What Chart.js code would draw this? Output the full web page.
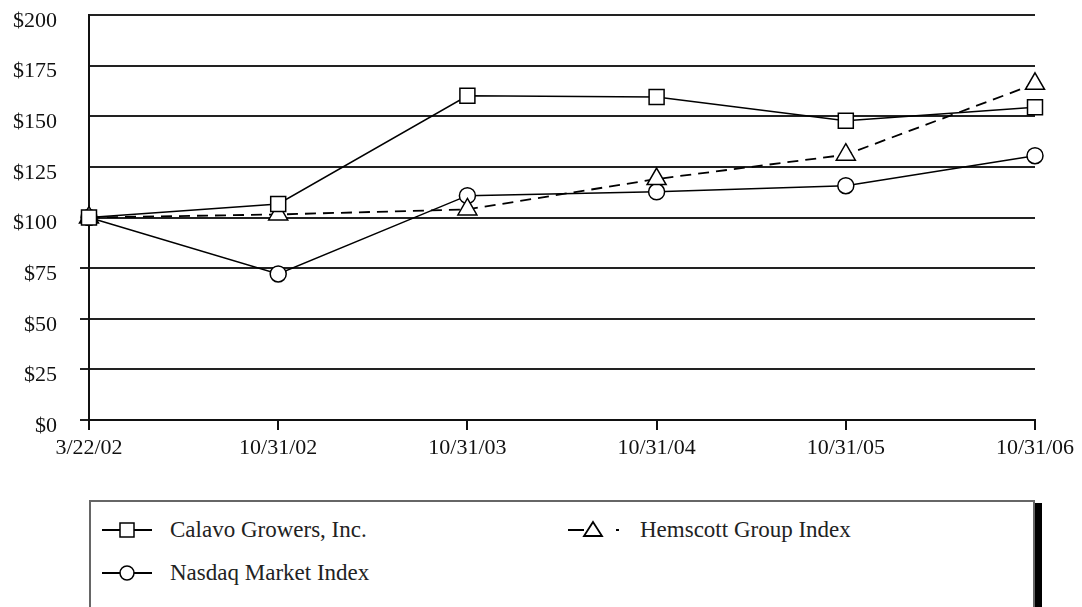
<!DOCTYPE html>
<html>
<head>
<meta charset="utf-8">
<script src="https://cdn.jsdelivr.net/npm/chart.js@4/dist/chart.umd.min.js"></script>
<style>
  html, body { margin: 0; padding: 0; background: #fff; overflow: hidden; }
  #wrap { position: relative; width: 1082px; height: 607px; }
  #chartBox { position: absolute; left: 0; top: 0; width: 1082px; height: 480px; }
  #legend { position: absolute; left: 89px; top: 500px; width: 946px; height: 140px;
            border: 2px solid #666; box-sizing: border-box; box-shadow: 7px 3px 0 0 #000;
            font-family: "Liberation Serif", "Times New Roman", serif; font-size: 23px; color: #222; }
  .item { position: absolute; display: flex; align-items: center; height: 30px; }
  .item svg { display: block; }
  .item span { white-space: nowrap; }
</style>
</head>
<body>
<div id="wrap">
  <div id="chartBox"><canvas id="c"></canvas></div>
  <div id="legend"></div>
</div>
<script>
const categories = ["3/22/02", "10/31/02", "10/31/03", "10/31/04", "10/31/05", "10/31/06"];
const calavo   = [100, 106.7, 160.1, 159.5, 147.8, 154.4];
const hemscott = [100, 101.5, 104, 119, 131, 166];
const nasdaq   = [100, 72.1, 110.8, 112.7, 115.7, 130.5];
const yTicks   = [0, 25, 50, 75, 100, 125, 150, 175, 200];
const seriesNames = ["Calavo Growers, Inc.", "Hemscott Group Index", "Nasdaq Market Index"];

const FONT = "'Liberation Serif', 'Times New Roman', serif";

new Chart(document.getElementById('c'), {
  type: 'line',
  data: {
    labels: categories,
    datasets: [
      { label: seriesNames[0], data: calavo, borderColor: '#000', borderWidth: 1.5,
        pointStyle: 'rect', pointRadius: 10.6, pointBackgroundColor: '#fff', pointBorderColor: '#000', pointBorderWidth: 1.5, tension: 0 },
      { label: seriesNames[1], data: hemscott, borderColor: '#000', borderWidth: 1.8, borderDash: [11, 7],
        pointStyle: 'triangle', pointRadius: 11, pointBackgroundColor: '#fff', pointBorderColor: '#000', pointBorderWidth: 1.5, tension: 0 },
      { label: seriesNames[2], data: nasdaq, borderColor: '#000', borderWidth: 1.5,
        pointStyle: 'circle', pointRadius: 8, pointBackgroundColor: '#fff', pointBorderColor: '#000', pointBorderWidth: 1.5, tension: 0 }
    ]
  },
  options: {
    responsive: true,
    maintainAspectRatio: false,
    animation: false,
    layout: { padding: { left: 0, right: 47, top: 15, bottom: 0 } },
    plugins: { legend: { display: false }, tooltip: { enabled: false } },
    scales: {
      x: {
        offset: false,
        grid: { display: true, drawOnChartArea: false, drawTicks: true, tickLength: 10, color: '#111', lineWidth: 2 },
        border: { display: true, color: '#111', width: 2 },
        ticks: { font: { family: FONT, size: 22 }, color: '#111', padding: 5, maxRotation: 0, autoSkip: false },
        afterFit: (s) => { s.height = 60; }
      },
      y: {
        min: 0, max: 200,
        afterBuildTicks: (s) => { s.ticks = yTicks.map(v => ({ value: v })); },
        grid: { color: '#222', lineWidth: 2, drawTicks: true, tickLength: 9,
                tickColor: (ctx) => (ctx.tick && ctx.tick.value <= 75) ? '#222' : 'rgba(0,0,0,0)' },
        border: { display: true, color: '#111', width: 2 },
        ticks: { font: { family: FONT, size: 22 }, color: '#111', padding: 23, labelOffset: 6,
                 callback: (v) => '$' + v },
        afterFit: (s) => { s.width = 89; s.paddingTop = 0; s.paddingBottom = 0; }
      }
    }
  }
});

// HTML legend
const legend = document.getElementById('legend');
const markers = {
  rect: '<rect x="18" y="3" width="14" height="14" fill="#fff" stroke="#000" stroke-width="1.5"/>',
  circle: '<circle cx="25" cy="10" r="7" fill="#fff" stroke="#000" stroke-width="1.5"/>',
  triangle: '<polygon points="25,2 34,16 16,16" fill="#fff" stroke="#000" stroke-width="1.8"/>'
};
function addItem(name, marker, left, top, dashed, textLeft) {
  const d = document.createElement('div');
  d.className = 'item';
  d.style.left = left + 'px';
  d.style.top = top + 'px';
  let line;
  if (dashed) {
    line = '<line x1="0" y1="10" x2="16" y2="10" stroke="#000" stroke-width="2"/>' +
           '<line x1="48" y1="10" x2="51" y2="10" stroke="#000" stroke-width="2"/>';
  } else {
    line = '<line x1="0" y1="10" x2="50" y2="10" stroke="#000" stroke-width="2"/>';
  }
  d.innerHTML = '<svg width="52" height="20" viewBox="0 0 52 20">' + line + markers[marker] + '</svg>' +
                '<span style="margin-left:' + textLeft + 'px">' + name + '</span>';
  legend.appendChild(d);
}
// positions relative to legend box (box at 89,500 with 2px border)
addItem(seriesNames[0], 'rect', 11, 13, false, 16);
addItem(seriesNames[1], 'triangle', 477, 13, true, 20);
addItem(seriesNames[2], 'circle', 11, 56, false, 16);
</script>
</body>
</html>
